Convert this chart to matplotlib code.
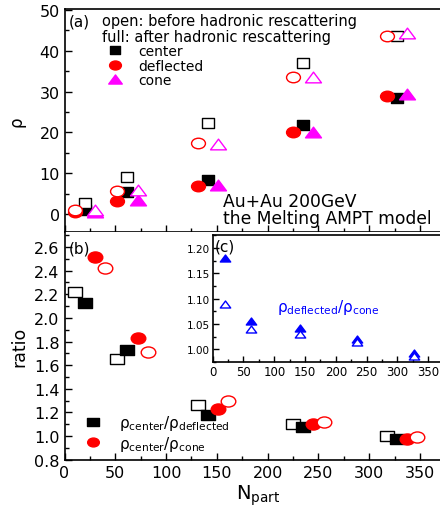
import numpy as np
import matplotlib.pyplot as plt
from matplotlib.path import Path
from matplotlib.transforms import Affine2D
from matplotlib.ticker import MultipleLocator, FormatStrFormatter

# centrality bins (N_part)
npart = np.array([20, 62, 141, 235, 327])

# (a) rho, open = before hadronic rescattering, full = after
center_before = [2.6, 9.1, 22.2, 37.1, 43.7]
center_after = [1.0, 5.5, 8.3, 21.8, 28.5]
deflected_before = [1.0, 5.6, 17.5, 33.5, 43.5]
deflected_after = [0.5, 3.2, 6.9, 20.0, 29.0]
cone_before = [1.1, 5.8, 17.2, 33.5, 44.3]
cone_after = [0.4, 3.4, 7.1, 20.0, 29.4]

# (b) ratios
cd_before = [2.22, 1.65, 1.265, 1.10, 1.00]
cd_after = [2.13, 1.73, 1.175, 1.08, 0.975]
cc_after = [2.515, 1.83, 1.23, 1.10, 0.975]
cc_before = [2.42, 1.71, 1.30, 1.115, 0.99]

# (c) deflected / cone
dc_after = [1.18, 1.055, 1.042, 1.02, 0.993]
dc_before = [1.09, 1.041, 1.03, 1.015, 0.987]

# the original figure is a bit stretched sideways -> flat markers
sq = Path([(-1, -0.78), (1, -0.78), (1, 0.78), (-1, 0.78), (-1, -0.78)], closed=True)
ci = Path.unit_circle().transformed(Affine2D().scale(1, 0.76))
tri = Path([(-1, -0.67), (1, -0.67), (0, 0.67), (-1, -0.67)], closed=True)

plt.rcParams['font.size'] = 11.5
plt.rcParams['xtick.direction'] = 'in'
plt.rcParams['ytick.direction'] = 'in'
plt.rcParams['axes.linewidth'] = 1.2

fig = plt.figure(figsize=(4.4, 5.1), dpi=100)
ax1 = fig.add_axes([0.1466, 0.5431, 0.88, 0.4373])
ax2 = fig.add_axes([0.1466, 0.0967, 0.88, 0.4464])
ax3 = fig.add_axes([0.4834, 0.2873, 0.54, 0.249])
ax2.spines['top'].set_visible(False)

# right edge of the original is cut off
xmax = 369.6 * 0.88 / 0.8534

# ---- (a)
ax1.plot(npart, center_after, ls='none', marker=sq, ms=8.5, color='black', label='center')
ax1.plot(npart, center_before, ls='none', marker=sq, ms=8.5, mfc='white', mec='black', mew=1)
ax1.plot(npart - 10, deflected_after, ls='none', marker=ci, ms=10, color='red', label='deflected')
ax1.plot(npart - 10, deflected_before, ls='none', marker=ci, ms=10, mfc='white', mec='red', mew=1)
ax1.plot(npart + 10, cone_after, ls='none', marker=tri, ms=11.5, color='magenta', label='cone')
ax1.plot(npart + 10, cone_before, ls='none', marker=tri, ms=11.5, mfc='white', mec='magenta', mew=1)

ax1.set_xlim(0, xmax)
ax1.set_ylim(-4.4, 50.2)
ax1.xaxis.set_major_locator(MultipleLocator(50))
ax1.xaxis.set_minor_locator(MultipleLocator(25))
ax1.yaxis.set_major_locator(MultipleLocator(10))
ax1.yaxis.set_minor_locator(MultipleLocator(5))
ax1.tick_params(labelbottom=False)
ax1.tick_params(which='major', length=5, width=1)
ax1.tick_params(which='minor', length=3, width=1)
ax1.set_ylabel('ρ', fontsize=12, labelpad=10)

ax1.text(0.0116, 0.928, '(a)', transform=ax1.transAxes, fontsize=11)
ax1.text(0.096, 0.928, 'open: before hadronic rescattering', transform=ax1.transAxes, fontsize=10.5)
ax1.text(0.096, 0.858, 'full: after hadronic rescattering', transform=ax1.transAxes, fontsize=10.5)
ax1.text(0.4086, 0.118, 'Au+Au 200GeV', transform=ax1.transAxes, fontsize=12.3)
ax1.text(0.4086, 0.039, 'the Melting AMPT model', transform=ax1.transAxes, fontsize=12.3)
ax1.legend(loc='upper left', bbox_to_anchor=(0.1116, 0.842), frameon=False, fontsize=10,
           borderpad=0, borderaxespad=0, handlelength=1.0, handletextpad=1.21,
           labelspacing=0.02, markerscale=0.85, numpoints=1)

# ---- (b)
ax2.plot(npart - 10, cd_before, ls='none', marker=sq, ms=10, mfc='white', mec='black', mew=1)
ax2.plot(npart, cd_after, ls='none', marker=sq, ms=10, color='black',
         label='ρ$_{\\mathrm{center}}$/ρ$_{\\mathrm{deflected}}$')
ax2.plot(npart + 10, cc_after, ls='none', marker=ci, ms=10.5, color='red',
         label='ρ$_{\\mathrm{center}}$/ρ$_{\\mathrm{cone}}$')
ax2.plot(npart + 20, cc_before, ls='none', marker=ci, ms=10.5, mfc='white', mec='red', mew=1)

ax2.set_xlim(0, xmax)
ax2.set_ylim(0.8, 2.727)
ax2.xaxis.set_major_locator(MultipleLocator(50))
ax2.xaxis.set_minor_locator(MultipleLocator(25))
ax2.yaxis.set_major_locator(MultipleLocator(0.2))
ax2.yaxis.set_minor_locator(MultipleLocator(0.1))
ax2.yaxis.set_major_formatter(FormatStrFormatter('%.1f'))
ax2.tick_params(which='major', length=5, width=1)
ax2.tick_params(which='minor', length=3, width=1)
ax2.set_ylabel('ratio', fontsize=12.5, labelpad=4)
ax2.set_xlabel('N$_{\\mathrm{part}}$', fontsize=14, labelpad=2)
ax2.text(0.0116, 0.911, '(b)', transform=ax2.transAxes, fontsize=11)
ax2.legend(loc='center left', bbox_to_anchor=(0.053, 0.117), frameon=False, fontsize=11,
           borderpad=0, borderaxespad=0, handlelength=1.0, handletextpad=1.2,
           labelspacing=0.1, markerscale=0.8, numpoints=1)

# ---- (c) inset
ax3.plot(npart, dc_after, ls='none', marker=tri, ms=7.5, color='blue')
ax3.plot(npart, dc_before, ls='none', marker=tri, ms=7.5, mfc='white', mec='blue', mew=1)
ax3.set_xlim(0, 227.3 / 0.616 * 0.54 / 0.5166)
ax3.set_ylim(0.974, 1.225)
ax3.xaxis.set_major_locator(MultipleLocator(50))
ax3.xaxis.set_minor_locator(MultipleLocator(25))
ax3.yaxis.set_major_locator(MultipleLocator(0.05))
ax3.yaxis.set_minor_locator(MultipleLocator(0.025))
ax3.yaxis.set_major_formatter(FormatStrFormatter('%.2f'))
ax3.tick_params(axis='x', labelsize=8.5, pad=2)
ax3.tick_params(axis='y', labelsize=7.5, pad=2)
ax3.tick_params(which='major', length=4, width=1)
ax3.tick_params(which='minor', length=2, width=1)
ax3.text(0.0097, 0.880, '(c)', transform=ax3.transAxes, fontsize=11)
ax3.text(0.269, 0.437, 'ρ$_{\\mathrm{deflected}}$/ρ$_{\\mathrm{cone}}$', transform=ax3.transAxes,
         fontsize=11, color='blue', va='center')

fig.savefig('out.png', dpi=100)
